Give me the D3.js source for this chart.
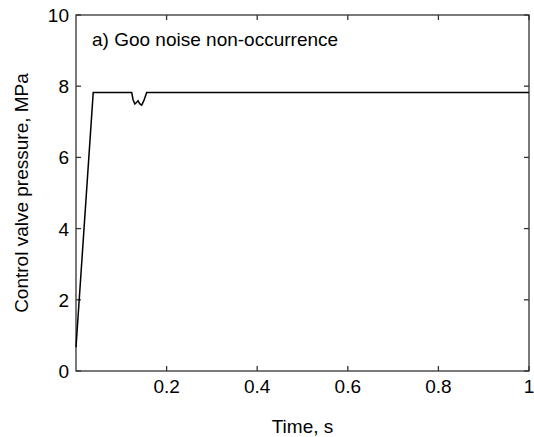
<!DOCTYPE html>
<html lang="en">
<head>
  <meta charset="UTF-8">
  <title>Control valve pressure</title>
  <script src="https://d3js.org/d3.v7.min.js"></script>
  <style>
    body { margin: 0; background: white; font-family: 'Liberation Sans', Arial, sans-serif; }
    svg { display: block; }
  </style>
</head>
<body>
  <div id="chart"></div>
  <script>
    // values
    const time = [0, 0.038, 0.123, 0.126, 0.130, 0.134, 0.137, 0.141, 0.145, 0.150, 0.156, 1];
    const pressure = [0.67, 7.82, 7.82, 7.62, 7.5, 7.55, 7.59, 7.5, 7.47, 7.6, 7.82, 7.82];
    const xTicks = [0.2, 0.4, 0.6, 0.8, 1];
    const yTicks = [0, 2, 4, 6, 8, 10];
    const title = "a) Goo noise non-occurrence";

    const W = 534, H = 437;
    const m = { left: 76, right: 5, top: 15, bottom: 66 };
    const svg = d3.select("#chart").append("svg").attr("width", W).attr("height", H);

    const x = d3.scaleLinear().domain([0, 1]).range([m.left, W - m.right]);
    const y = d3.scaleLinear().domain([0, 10]).range([H - m.bottom, m.top]);

    const axisColor = "#333";
    const fs = 19;

    // frame
    svg.append("rect")
      .attr("x", x(0)).attr("y", y(10))
      .attr("width", x(1) - x(0)).attr("height", y(0) - y(10))
      .attr("fill", "none").attr("stroke", axisColor).attr("stroke-width", 1.3);

    // x ticks (inside, bottom and top)
    const gx = svg.append("g");
    xTicks.forEach(t => {
      gx.append("line").attr("x1", x(t)).attr("x2", x(t)).attr("y1", y(0)).attr("y2", y(0) - 5)
        .attr("stroke", axisColor).attr("stroke-width", 1.3);
      gx.append("line").attr("x1", x(t)).attr("x2", x(t)).attr("y1", y(10)).attr("y2", y(10) + 5)
        .attr("stroke", axisColor).attr("stroke-width", 1.3);
      gx.append("text").attr("x", x(t)).attr("y", y(0) + 22)
        .attr("text-anchor", "middle").attr("font-size", fs).text(d3.format("~g")(t));
    });

    // y ticks (inside, left and right)
    const gy = svg.append("g");
    yTicks.forEach(t => {
      gy.append("line").attr("x1", x(0)).attr("x2", x(0) + 5).attr("y1", y(t)).attr("y2", y(t))
        .attr("stroke", axisColor).attr("stroke-width", 1.3);
      gy.append("line").attr("x1", x(1)).attr("x2", x(1) - 5).attr("y1", y(t)).attr("y2", y(t))
        .attr("stroke", axisColor).attr("stroke-width", 1.3);
      gy.append("text").attr("x", x(0) - 7).attr("y", y(t) + 7)
        .attr("text-anchor", "end").attr("font-size", fs).text(t);
    });

    // data line
    const pts = time.map((t, i) => [t, pressure[i]]);
    svg.append("path")
      .datum(pts)
      .attr("fill", "none")
      .attr("stroke", "black")
      .attr("stroke-width", 1.5)
      .attr("d", d3.line().x(d => x(d[0])).y(d => y(d[1])));

    // labels
    svg.append("text").attr("x", 92).attr("y", 46).attr("font-size", fs).text(title);
    svg.append("text").attr("x", (x(0) + x(1)) / 2).attr("y", 433)
      .attr("text-anchor", "middle").attr("font-size", fs).text("Time, s");
    svg.append("text")
      .attr("transform", `translate(28,${(y(0) + y(10)) / 2}) rotate(-90)`)
      .attr("text-anchor", "middle").attr("font-size", fs).text("Control valve pressure, MPa");
  </script>
</body>
</html>
